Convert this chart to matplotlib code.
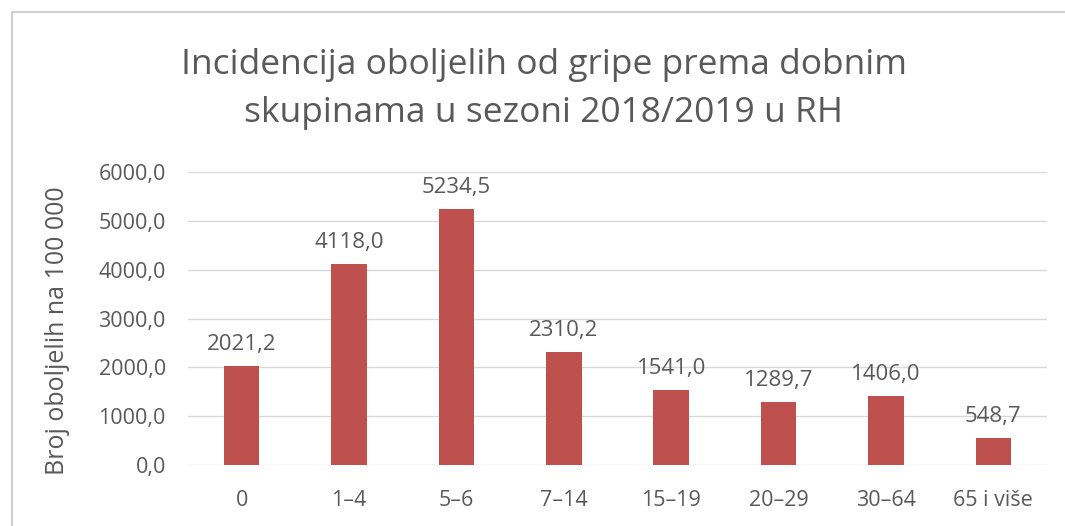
import matplotlib
matplotlib.use("Agg")
import matplotlib.pyplot as plt
from matplotlib.patches import Rectangle

categories = ["0", "1–4", "5–6", "7–14", "15–19", "20–29", "30–64", "65 i više"]
values = [2021.2, 4118.0, 5234.5, 2310.2, 1541.0, 1289.7, 1406.0, 548.7]
yticks = [0, 1000, 2000, 3000, 4000, 5000, 6000]

plt.rcParams['font.family'] = ['Open Sans', 'DejaVu Sans']
gray = "#595959"

fig = plt.figure(figsize=(10.65, 5.26), dpi=100)
fig.patches.append(Rectangle((12/1065, -0.1), 1.2, 1 - 12/526 + 0.1, transform=fig.transFigure,
                             fill=False, edgecolor="#d0d0d0", linewidth=1.5))
ax = fig.add_axes([188/1065, 1 - 465/526, (1047 - 188)/1065, (465 - 172)/526])

x = list(range(len(categories)))
ax.bar(x, values, width=0.33, color="#BE504E", zorder=3)
ax.set_xlim(-0.5, len(categories) - 0.5)
ax.set_ylim(0, 6000)
ax.set_yticks(yticks)
ax.set_yticklabels([f"{v:.1f}".replace(".", ",") for v in yticks])
ax.set_xticks(x)
ax.set_xticklabels(categories)
ax.grid(axis="y", color="#d9d9d9", linewidth=1, zorder=0)
for s in ax.spines.values():
    s.set_visible(False)
ax.tick_params(axis="both", length=0, labelsize=15.5, colors=gray)
ax.tick_params(axis="y", pad=16)
ax.tick_params(axis="x", pad=18)

for xi, v in zip(x, values):
    ax.annotate(f"{v:.1f}".replace(".", ","), (xi, v), xytext=(0, 8), textcoords="offset points",
                ha="center", va="bottom", fontsize=16, color=gray)

fig.text(57/1065, 1 - 331/526, "Broj oboljelih na 100 000", rotation=90, ha="center", va="center",
         fontsize=18, color=gray)
fig.text(544/1065, 1 - 65/526, "Incidencija oboljelih od gripe prema dobnim",
         ha="center", va="center", fontsize=25.5, color=gray)
fig.text(544/1065, 1 - 113/526, "skupinama u sezoni 2018/2019 u RH",
         ha="center", va="center", fontsize=25.5, color=gray)

fig.savefig("out.png", dpi=100, facecolor="white")
